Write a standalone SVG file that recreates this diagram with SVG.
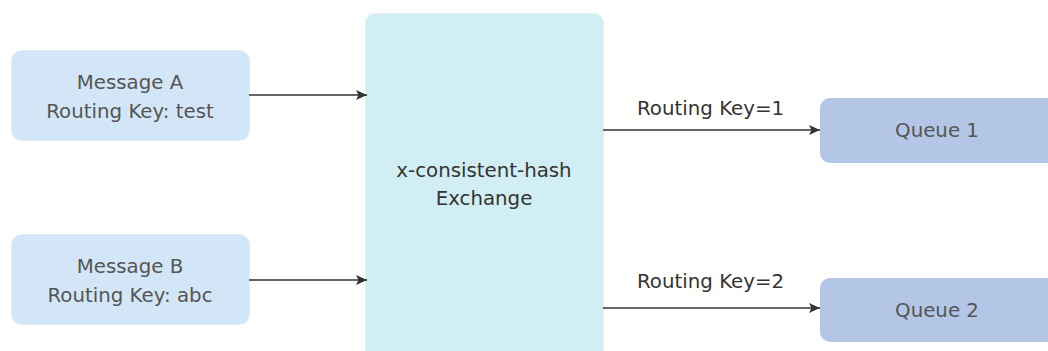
<svg xmlns="http://www.w3.org/2000/svg" width="1048" height="351" viewBox="0 0 1048 351">
<defs>
<style>
.msg{fill:#d3e6f8;stroke:#e3edf6;stroke-width:1}
.ex{fill:#d1eef4;stroke:#e0eef2;stroke-width:1}
.q{fill:#b3c6e5}
text{font-family:"DejaVu Sans","Noto Sans",sans-serif;font-size:19.8px;text-anchor:middle}
.t{fill:#555}
.td{fill:#333}
.lbl{fill:#333;text-anchor:start}
.c{stroke:#333;stroke-width:1.6;fill:none;marker-end:url(#ah)}
</style>
<marker id="ah" markerWidth="12" markerHeight="12" refX="11" refY="5" orient="auto" markerUnits="userSpaceOnUse">
<path d="M0,0 L11,5 L0,10 L2.5,5 Z" fill="#333"/>
</marker>
</defs>
<rect width="1048" height="351" fill="#fff"/>
<g id="msgA"><rect class="msg" x="11.5" y="50.5" width="238" height="90" rx="10"/>
<text class="t" x="130" y="89">Message A</text><text class="t" x="130" y="118">Routing Key: test</text></g>
<g id="msgB"><rect class="msg" x="11.5" y="234.5" width="238" height="90" rx="10"/>
<text class="t" x="130" y="273">Message B</text><text class="t" x="130" y="302">Routing Key: abc</text></g>
<g id="exchange"><rect class="ex" x="365.5" y="13.5" width="238" height="360" rx="10"/>
<text class="td" x="484" y="177">x-consistent-hash</text><text class="td" x="484" y="205">Exchange</text></g>
<g id="queue1"><rect class="q" x="820" y="98" width="240" height="65" rx="10"/>
<text class="t" x="937" y="137">Queue 1</text></g>
<g id="queue2"><rect class="q" x="820" y="278" width="240" height="64" rx="10"/>
<text class="t" x="937" y="317">Queue 2</text></g>
<g id="connectors">
<line class="c" x1="249" y1="95" x2="367" y2="95"/>
<line class="c" x1="249" y1="280" x2="367" y2="280"/>
<line class="c" x1="603" y1="130" x2="820" y2="130"/>
<line class="c" x1="603" y1="308" x2="820" y2="308"/>
<text class="lbl" x="637" y="115">Routing Key=1</text>
<text class="lbl" x="637" y="288">Routing Key=2</text>
</g>
</svg>
